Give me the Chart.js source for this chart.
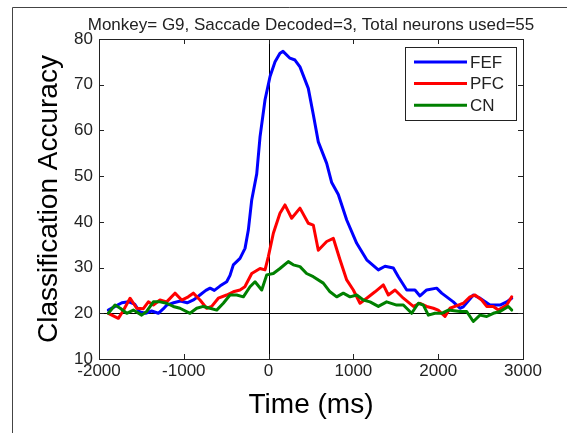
<!DOCTYPE html>
<html>
<head>
<meta charset="utf-8">
<script src="https://cdn.jsdelivr.net/npm/chart.js@4"></script>
<style>
  html, body { margin: 0; padding: 0; background: #fff; }
  canvas { display: block; }
</style>
</head>
<body>
<canvas id="chart" width="577" height="433"></canvas>
<script>
// Decoding accuracy over time, one curve per area
const timeFEF = [-1890, -1810, -1730, -1650, -1580, -1520, -1450, -1380, -1300, -1240, -1200, -1120, -1040, -960, -880, -810, -740, -690, -640, -570, -494, -455, -416, -337, -278, -239, -199, -140, -101, -42, 17, 76, 134, 170, 252, 311, 370, 468, 527, 586, 685, 744, 822, 921, 1039, 1157, 1294, 1373, 1471, 1530, 1629, 1726, 1785, 1864, 1982, 2041, 2178, 2257, 2296, 2414, 2493, 2611, 2729, 2808, 2867];
const accFEF = [20.7, 21.5, 22.3, 22.5, 22.0, 20.3, 20.0, 20.5, 20.0, 21.0, 21.8, 22.3, 22.7, 22.3, 23.0, 24.0, 25.0, 25.5, 25.0, 26.0, 26.9, 28.3, 30.6, 32.0, 34.2, 38.2, 44.8, 50.5, 58.6, 66.7, 71.8, 75.0, 76.9, 77.3, 75.8, 75.4, 73.9, 69.2, 63.5, 57.5, 52.8, 48.6, 46.0, 40.4, 35.3, 31.7, 29.5, 30.3, 29.9, 28.0, 25.1, 25.1, 23.8, 25.1, 25.5, 24.4, 22.5, 21.1, 21.4, 24.0, 23.3, 21.8, 21.8, 22.5, 23.3];

const timePFC = [-1890, -1772, -1720, -1634, -1555, -1477, -1418, -1359, -1281, -1202, -1104, -1025, -947, -888, -809, -730, -671, -593, -494, -416, -337, -280, -199, -101, -42, -3, 56, 134, 193, 272, 370, 468, 527, 586, 685, 763, 842, 921, 999, 1078, 1157, 1255, 1353, 1412, 1491, 1589, 1707, 1785, 1864, 1943, 2000, 2080, 2139, 2237, 2296, 2375, 2434, 2513, 2572, 2650, 2709, 2808, 2867];
const accPFC = [20.0, 18.9, 20.4, 23.3, 21.1, 21.0, 22.5, 21.8, 22.9, 22.5, 24.4, 22.9, 23.6, 24.4, 22.9, 21.1, 21.5, 23.3, 24.0, 24.7, 25.1, 25.8, 28.7, 29.8, 29.5, 32.4, 37.5, 41.9, 43.7, 40.8, 43.0, 39.7, 39.3, 33.8, 35.7, 36.4, 31.7, 27.3, 25.1, 22.2, 23.3, 24.7, 26.2, 24.0, 25.1, 23.3, 21.5, 22.2, 21.5, 21.1, 20.7, 19.3, 21.1, 21.8, 22.2, 23.6, 24.0, 22.9, 21.5, 21.5, 20.7, 21.8, 23.6];

const timeCN = [-1890, -1811, -1750, -1673, -1595, -1497, -1438, -1359, -1281, -1202, -1124, -1045, -927, -848, -770, -691, -612, -534, -455, -376, -298, -219, -160, -81, -22, 56, 134, 232, 291, 370, 448, 527, 645, 724, 803, 881, 960, 1039, 1117, 1196, 1294, 1392, 1510, 1589, 1687, 1766, 1825, 1884, 1962, 2041, 2119, 2257, 2336, 2414, 2493, 2572, 2650, 2729, 2827, 2867];
const accCN = [20.0, 21.8, 21.1, 20.0, 20.7, 19.6, 20.4, 22.5, 22.5, 22.2, 21.5, 21.1, 20.0, 21.1, 21.5, 21.1, 20.7, 22.2, 24.0, 24.0, 23.6, 25.8, 26.9, 25.1, 28.4, 28.7, 29.8, 31.3, 30.6, 30.2, 28.7, 28.0, 26.6, 24.7, 23.6, 24.4, 23.6, 24.0, 22.9, 22.5, 21.5, 22.5, 21.8, 21.8, 20.0, 22.2, 21.8, 19.6, 20.0, 20.0, 20.7, 20.4, 20.4, 18.2, 19.6, 19.3, 20.0, 20.4, 21.5, 20.7];

const xTicks = [-2000, -1000, 0, 1000, 2000, 3000];
const yTicks = [10, 20, 30, 40, 50, 60, 70, 80];

const TITLE = 'Monkey= G9, Saccade Decoded=3, Total neurons used=55';
const FONT = 'Liberation Sans, Arial, sans-serif';
const TEXT = '#222';

function toPoints(xs, ys) {
    return xs.map((x, i) => ({ x, y: ys[i] }));
}

// Outer figure frame, title, plot box, inward ticks and reference lines
const frame = {
    id: 'frame',
    beforeDraw(chart) {
        const { ctx, chartArea: a } = chart;
        ctx.save();
        ctx.fillStyle = '#fff';
        ctx.fillRect(0, 0, chart.width, chart.height);
        ctx.strokeStyle = '#444';
        ctx.lineWidth = 1;
        ctx.beginPath();
        ctx.moveTo(12.5, chart.height);
        ctx.lineTo(12.5, 7.5);
        ctx.lineTo(567, 7.5);
        ctx.stroke();

        // title centred over the plot box
        ctx.fillStyle = TEXT;
        ctx.font = '17px ' + FONT;
        ctx.textAlign = 'center';
        ctx.textBaseline = 'alphabetic';
        ctx.fillText(TITLE, (a.left + a.right) / 2, 29.5);
        ctx.restore();
    },
    beforeDatasetsDraw(chart) {
        const { ctx, chartArea: a, scales: { x, y } } = chart;
        ctx.save();
        ctx.strokeStyle = '#000';
        ctx.lineWidth = 1;
        ctx.beginPath();
        const x0 = Math.round(x.getPixelForValue(0)) + 0.5;
        ctx.moveTo(x0, a.top);
        ctx.lineTo(x0, a.bottom);
        const y20 = Math.round(y.getPixelForValue(20)) + 0.5;
        ctx.moveTo(a.left, y20);
        ctx.lineTo(a.right, y20);
        ctx.stroke();
        ctx.restore();
    },
    afterDraw(chart) {
        const { ctx, chartArea: a, scales: { x, y } } = chart;
        const len = 5;
        ctx.save();
        ctx.strokeStyle = '#222';
        ctx.lineWidth = 1;
        ctx.beginPath();
        ctx.rect(Math.round(a.left) + 0.5, Math.round(a.top) + 0.5,
                 Math.round(a.right - a.left), Math.round(a.bottom - a.top));
        xTicks.forEach(v => {
            const px = Math.round(x.getPixelForValue(v)) + 0.5;
            ctx.moveTo(px, a.bottom);
            ctx.lineTo(px, a.bottom - len);
            ctx.moveTo(px, a.top);
            ctx.lineTo(px, a.top + len);
        });
        yTicks.forEach(v => {
            const py = Math.round(y.getPixelForValue(v)) + 0.5;
            ctx.moveTo(a.left, py);
            ctx.lineTo(a.left + len, py);
            ctx.moveTo(a.right, py);
            ctx.lineTo(a.right - len, py);
        });
        ctx.stroke();

        // legend box, upper right
        const bx = 405.5, by = 47.5, bw = 111, bh = 73;
        ctx.fillStyle = '#fff';
        ctx.fillRect(bx, by, bw, bh);
        ctx.strokeRect(bx, by, bw, bh);
        ctx.font = '17px ' + FONT;
        ctx.textBaseline = 'middle';
        ctx.textAlign = 'left';
        chart.data.datasets.forEach((ds, i) => {
            const ly = 62 + i * 21.6;
            ctx.strokeStyle = ds.borderColor;
            ctx.lineWidth = 3;
            ctx.beginPath();
            ctx.moveTo(414, ly);
            ctx.lineTo(467, ly);
            ctx.stroke();
            ctx.fillStyle = TEXT;
            ctx.fillText(ds.label, 470, ly + 1);
        });
        ctx.restore();
    }
};

new Chart(document.getElementById('chart'), {
    type: 'line',
    data: {
        datasets: [
            { label: 'FEF', data: toPoints(timeFEF, accFEF), borderColor: '#0000ff', order: 3 },
            { label: 'PFC', data: toPoints(timePFC, accPFC), borderColor: '#ff0000', order: 2 },
            { label: 'CN', data: toPoints(timeCN, accCN), borderColor: '#008000', order: 1 }
        ]
    },
    options: {
        responsive: false,
        animation: false,
        devicePixelRatio: 1,
        layout: { padding: { left: 0, right: 54, top: 39, bottom: 0 } },
        elements: {
            line: { borderWidth: 3, tension: 0, borderJoinStyle: 'round', borderCapStyle: 'round', fill: false },
            point: { radius: 0 }
        },
        plugins: {
            legend: { display: false },
            tooltip: { enabled: false },
            title: { display: false }
        },
        scales: {
            x: {
                type: 'linear',
                min: -2000,
                max: 3000,
                afterBuildTicks(s) { s.ticks = xTicks.map(v => ({ value: v })); },
                afterFit(s) { s.height = 74; },
                ticks: {
                    autoSkip: false,
                    maxRotation: 0,
                    padding: 2,
                    color: TEXT,
                    font: { family: FONT, size: 17 },
                    callback: v => String(v)
                },
                grid: { display: false, drawTicks: false },
                border: { color: '#222', width: 1 },
                title: {
                    display: true,
                    text: 'Time (ms)',
                    color: '#000',
                    font: { family: FONT, size: 28 },
                    padding: { top: 0, bottom: 11 }
                }
            },
            y: {
                type: 'linear',
                min: 10,
                max: 80,
                afterBuildTicks(s) { s.ticks = yTicks.map(v => ({ value: v })); },
                afterFit(s) { s.width = 99; },
                ticks: {
                    autoSkip: false,
                    padding: 6,
                    color: TEXT,
                    font: { family: FONT, size: 17 },
                    callback: v => String(v)
                },
                grid: { display: false, drawTicks: false },
                border: { color: '#222', width: 1 },
                title: {
                    display: true,
                    text: 'Classification Accuracy',
                    color: '#000',
                    font: { family: FONT, size: 28 },
                    padding: { top: 32, bottom: 0 }
                }
            }
        }
    },
    plugins: [frame]
});
</script>
</body>
</html>
